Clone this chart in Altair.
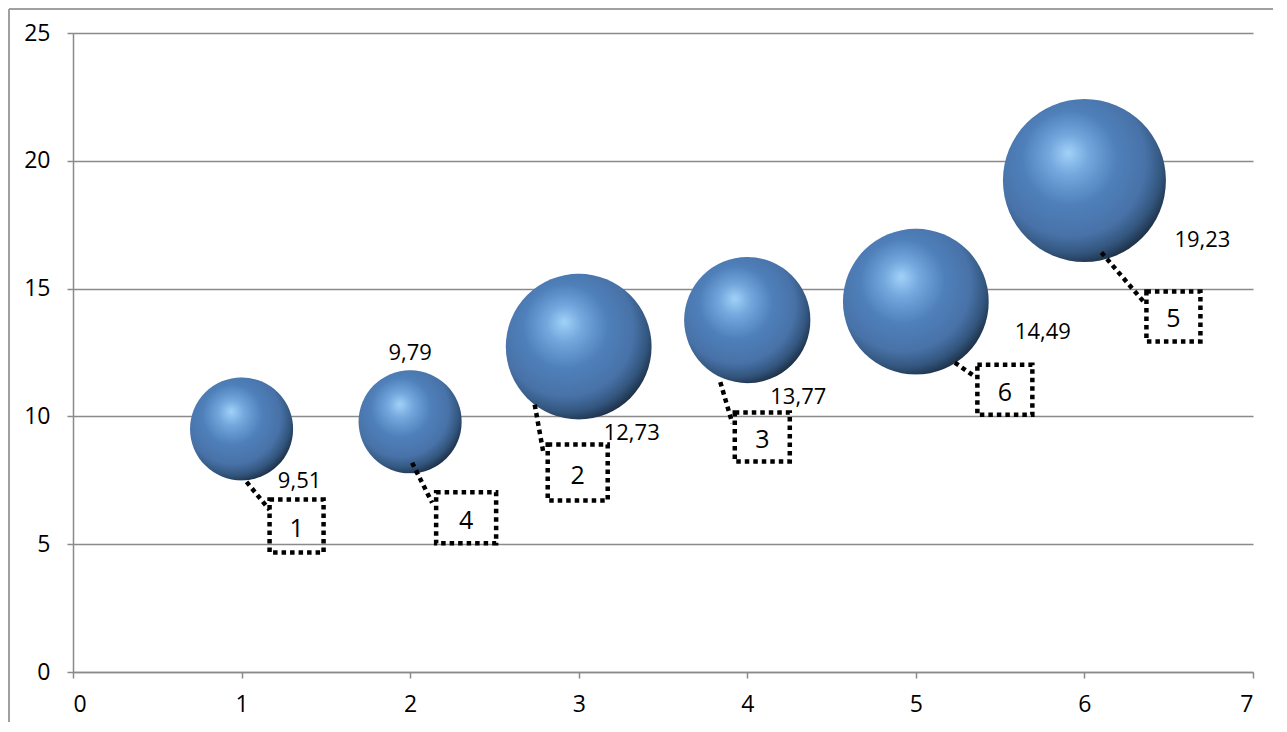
import altair as alt
import pandas as pd

# ---- data ----
x_vals = [1, 2, 3, 4, 5, 6]
y_vals = [9.51, 9.79, 12.73, 13.77, 14.49, 19.23]
bubble_sizes = [4, 4, 8, 6, 8, 10]
box_labels = ["1", "4", "2", "3", "6", "5"]

# ---- callout styling: pixel offsets relative to each bubble centre ----
value_label_offsets = [(58, 52), (0, -69), (53, 86), (51, 77), (127, 30), (118, 60)]
box_offsets = [(55, 97, 54, 53), (56, 96, 60, 51), (-1, 126, 60, 56),
               (15, 117, 55, 49), (89, 88, 55, 50), (89, 136, 54, 50)]
leader_offsets = [((5, 53), (28, 81)), ((2, 41), (22, 81)), ((-44, 58), (-35, 108)),
                  ((-27, 62), (-15, 103)), ((39, 61), (59, 75)), ((17, 72), (59, 121))]

df = pd.DataFrame({"x": x_vals, "y": y_vals, "size": bubble_sizes, "box": box_labels})

FONT = "Open Sans"
GRID = "#8a8a8a"
W, H = 1180, 639

xscale = alt.Scale(domain=[0, 7], nice=False, zero=False)
yscale = alt.Scale(domain=[0, 25], nice=False)

xaxis = alt.Axis(values=list(range(8)), grid=False, domainColor=GRID, tickColor=GRID,
                 tickSize=6, labelFont=FONT, labelFontSize=23, labelColor="#000",
                 labelPadding=15, domainWidth=1.5, tickWidth=1.5)
yaxis = alt.Axis(values=[0, 5, 10, 15, 20, 25], grid=True, gridColor=GRID, gridWidth=1.5,
                 domainColor=GRID, tickColor=GRID, tickSize=6, labelFont=FONT,
                 labelFontSize=23, labelColor="#000", labelPadding=17,
                 domainWidth=1.5, tickWidth=1.5)

X = alt.X("x:Q", scale=xscale, title=None, axis=xaxis)
Y = alt.Y("y:Q", scale=yscale, title=None, axis=yaxis)

base = alt.Chart(df).transform_calculate(
    lbl="replace(format(datum.y, '.2f'), '.', ',')"
)

sphere = {
    "gradient": "radial",
    "x1": 0.4, "y1": 0.33, "r1": 0,
    "x2": 0.42, "y2": 0.4, "r2": 0.64,
    "stops": [
        {"offset": 0.0, "color": "#a0d2f8"},
        {"offset": 0.2, "color": "#72a6dc"},
        {"offset": 0.45, "color": "#4f80ba"},
        {"offset": 0.72, "color": "#4872a8"},
        {"offset": 0.87, "color": "#33567e"},
        {"offset": 1.0, "color": "#1a2a3e"},
    ],
}

bubbles = base.mark_circle(opacity=1, fill=sphere).encode(
    x=X, y=Y,
    size=alt.Size("size:Q", scale=alt.Scale(domain=[0, 10], range=[0, 26569]), legend=None),
)

layers = [bubbles]

for i, xv in enumerate(x_vals):
    sel = base.transform_filter(alt.datum.x == xv)
    (sx, sy), (ex, ey) = leader_offsets[i]
    layers.append(
        sel.mark_rule(color="black", strokeWidth=4.5, strokeDash=[4.5, 4],
                      xOffset=sx, yOffset=sy, x2Offset=ex, y2Offset=ey).encode(
            x=X, y=Y, x2=alt.X2("x"), y2=alt.Y2("y"))
    )
    bx, by, bw, bh = box_offsets[i]
    layers.append(
        sel.mark_rect(fill="white", fillOpacity=0, stroke="black", strokeWidth=4.5,
                      strokeDash=[4.5, 4],
                      xOffset=bx - bw / 2, x2Offset=bx + bw / 2,
                      yOffset=by - bh / 2, y2Offset=by + bh / 2).encode(
            x=X, y=Y, x2=alt.X2("x"), y2=alt.Y2("y"))
    )
    layers.append(
        sel.mark_text(font=FONT, fontSize=25, color="black", align="center",
                      baseline="middle", dx=bx, dy=by + 3).encode(
            x=X, y=Y, text="box:N")
    )
    vx, vy = value_label_offsets[i]
    layers.append(
        sel.mark_text(font=FONT, fontSize=22, color="black", align="center",
                      baseline="middle", dx=vx, dy=vy).encode(
            x=X, y=Y, text="lbl:N")
    )

# outer chart-area border (left and top edges visible in the reference)
border_left = alt.Chart(df).mark_rule(color="#a0a0a0", strokeWidth=1.5).encode(
    x=alt.value(-64), y=alt.value(-24), y2=alt.value(720))
border_top = alt.Chart(df).mark_rule(color="#a0a0a0", strokeWidth=1.5).encode(
    x=alt.value(-64), x2=alt.value(1300), y=alt.value(-24))
layers += [border_left, border_top]

chart = alt.layer(*layers).properties(
    width=W, height=H,
    padding={"left": 65, "top": 25, "right": 20, "bottom": 50},
    autosize=alt.AutoSizeParams(type="none"),
).configure_view(stroke=None)

chart.save("out.html", embed_options={"renderer": "svg", "actions": False})
